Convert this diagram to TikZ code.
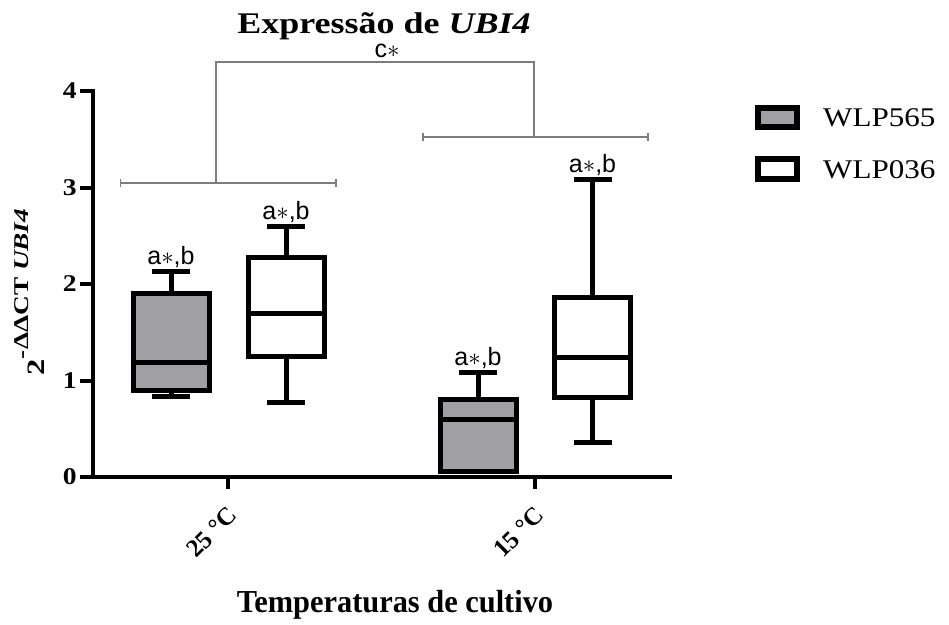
\documentclass[tikz,border=0pt]{standalone}
\usepackage{fontspec}
\setmainfont{Liberation Serif}
\newfontfamily\lsans{Liberation Sans}
\definecolor{boxgray}{RGB}{160,160,164}
\definecolor{brgray}{RGB}{125,125,125}
\newcommand\myboxplot[8]{%
  % #1 center, #2 cap top, #3 q3, #4 median, #5 q1, #6 cap bottom, #7 fill, #8 name
  \draw[boxline] (#1,#2) -- (#1,#3);
  \draw[boxline] (#1-19,#2) -- (#1+19,#2);
  \draw[boxline] (#1,#5) -- (#1,#6);
  \draw[boxline] (#1-19,#6) -- (#1+19,#6);
  \filldraw[boxline, fill=#7] (#1-38,#3) rectangle (#1+38,#5);
  \draw[boxline] (#1-38,#4) -- (#1+38,#4);
  \node[sig] (#8) at (#1,#2-7) {a$\ast$,b};
}
\begin{document}
\begin{tikzpicture}[x=1pt,y=-1pt,
  boxline/.style={line width=5pt},
  axisline/.style={line width=4pt},
  bracket/.style={brgray, line width=1.3pt},
  sig/.style={font=\lsans\fontsize{25}{25}\selectfont, anchor=base, inner sep=0pt},
  ticklab/.style={font=\bfseries\fontsize{24}{24}\selectfont, inner sep=0pt},
  legtext/.style={font=\fontsize{27}{27}\selectfont, anchor=west, xscale=1.15, inner sep=0pt}]
\useasboundingbox (0,0) rectangle (949,624);
% axes
\draw[axisline] (93,89) -- (93,477) -- (672,477);
\foreach \v/\y in {0/477,1/380.5,2/284,3/187.5,4/91}{
  \draw[axisline] (80,\y) -- (93,\y);
  \node[ticklab, xscale=1.15, anchor=east] (yt\v) at (77,\y) {\v};
}
\draw[axisline] (228,477) -- (228,489);
\draw[axisline] (535,477) -- (535,489);
\node[ticklab, font=\bfseries\fontsize{25}{25}\selectfont, rotate=45, anchor=east] (x25) at (233,511) {25 °C};
\node[ticklab, font=\bfseries\fontsize{25}{25}\selectfont, rotate=45, anchor=east] (x15) at (540,511) {15 °C};
% boxplots
\myboxplot{171}{271}{293}{362}{390}{396}{boxgray}{s1}
\myboxplot{286}{226}{257}{313}{356}{402}{white}{s2}
\myboxplot{478}{372}{399}{419}{471}{471}{boxgray}{s3}
\myboxplot{592.5}{179}{297}{357}{397}{442}{white}{s4}
% brackets
\draw[bracket] (120.5,183) -- (336,183);
\draw[bracket] (120.5,179) -- (120.5,187);
\draw[bracket] (336,179) -- (336,187);
\draw[bracket] (423,137) -- (648,137);
\draw[bracket] (423,133) -- (423,141);
\draw[bracket] (648,133) -- (648,141);
\draw[bracket] (216,183) -- (216,62) -- (534,62) -- (534,137);
\node[sig] (c) at (387,57) {c$\ast$};
% titles
\node[font=\bfseries\fontsize{30}{30}\selectfont, xscale=1.2, anchor=base] (title) at (384,33) {Expressão de \textit{UBI4}};
\node[font=\bfseries\fontsize{32}{32}\selectfont, xscale=0.95, anchor=base] (xtitle) at (395,612) {Temperaturas de cultivo};
\node[font=\bfseries\fontsize{25}{25}\selectfont, rotate=90, anchor=base] (ytitle) at (44,292) {\scalebox{1.3}[1]{2\raisebox{0.62em}{\fontsize{21}{21}\selectfont -ΔΔCT \textit{UBI4}}}};
% legend
\filldraw[line width=6pt, fill=boxgray] (758,108) rectangle (797,127);
\filldraw[line width=6pt, fill=white] (758,159) rectangle (797,179);
\node[legtext] (l1) at (823,118) {WLP565};
\node[legtext] (l2) at (823,170) {WLP036};
\end{tikzpicture}
\end{document}
